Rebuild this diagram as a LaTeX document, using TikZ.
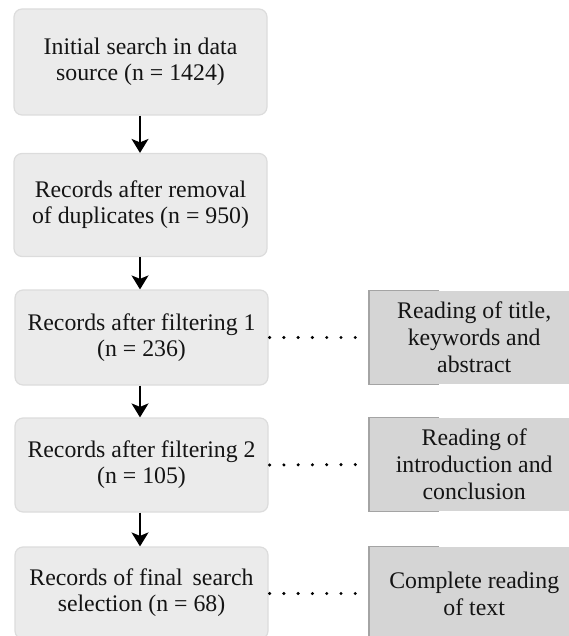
\documentclass[tikz,border=0pt]{standalone}
\usepackage{fontspec}
\setmainfont{Liberation Serif}
\usetikzlibrary{arrows.meta}
\definecolor{lfill}{HTML}{EBEBEB}
\definecolor{ledge}{HTML}{DCDCDC}
\definecolor{rfill}{HTML}{D5D5D5}
\definecolor{redge}{HTML}{A4A4A4}
\definecolor{txt}{HTML}{141414}
\tikzset{
  lbox/.style={draw=ledge, fill=lfill, line width=1.2pt, rounded corners=8pt,
    minimum width=253pt, align=center, text=txt, inner sep=0pt,
    font=\fontsize{23.8}{26}\selectfont},
  rbox/.style={fill=rfill, minimum width=210pt, align=center, text=txt, inner sep=0pt,
    font=\fontsize{23.8}{27}\selectfont},
  flow/.style={draw=black, line width=1.7pt, -{Stealth[length=14pt,width=17pt,inset=3.5pt]}},
  dots/.style={draw=black, line width=3.4pt, line cap=round, dash pattern=on 0pt off 14.28pt}
}
\begin{document}
\begin{tikzpicture}[x=1pt,y=-1pt]
\useasboundingbox (0,0) rectangle (569,636);
\clip (0,0) rectangle (569,636);
\node[lbox, minimum height=106pt] (b1) at (140.5,62) {Initial search in data\\source (n = 1424)};
\node[lbox, minimum height=103pt] (b2) at (140.5,205) {Records after removal\\of duplicates (n = 950)};
\node[lbox, minimum height=95pt] (b3) at (141.5,337.5) {Records after filtering 1\\(n = 236)};
\node[lbox, minimum height=94pt] (b4) at (141.5,465) {Records after filtering 2\\(n = 105)};
\node[lbox, minimum height=92pt] (b5) at (141.5,593) {Records of final\, search\\selection (n = 68)};
\node[rbox, minimum height=93pt, anchor=west] (r1) at (369,337.5) {Reading of title,\\keywords and\\abstract};
\node[rbox, minimum height=93pt, anchor=west] (r2) at (369,464.5) {Reading of\\introduction and\\conclusion};
\node[rbox, minimum height=93pt, anchor=west] (r3) at (369,593.5) {Complete reading\\of text};
\foreach \r in {r1,r2,r3}{
  \draw[redge, line width=1.3pt] ([xshift=70pt]\r.north west) -- (\r.north west) -- (\r.south west) -- ([xshift=70pt]\r.south west);
}
\draw[flow] (b1.south -| 140,0) -- (b2.north -| 140,0);
\draw[flow] (b2.south -| 140,0) -- (b3.north -| 140,0);
\draw[flow] (b3.south -| 140,0) -- (b4.north -| 140,0);
\draw[flow] (b4.south -| 140,0) -- (b5.north -| 140,0);
\draw[dots] ([xshift=1pt]b3.east) -- (r1.west);
\draw[dots] ([xshift=1pt]b4.east) -- (r2.west);
\draw[dots] ([xshift=1pt]b5.east |- r3.west) -- (r3.west);
\end{tikzpicture}
\end{document}
